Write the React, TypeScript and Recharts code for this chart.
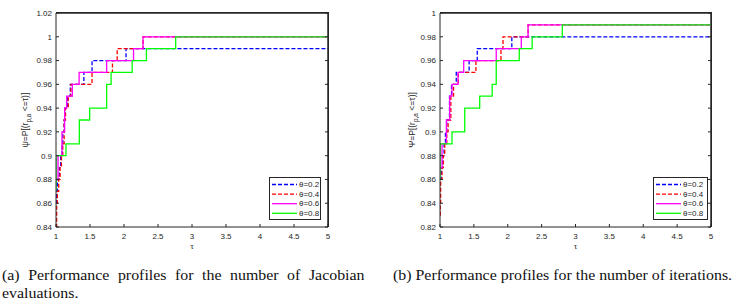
import { LineChart, Line, XAxis, YAxis, Legend, Label, ReferenceLine } from "recharts"

// ── Data ──────────────────────────────────────────────────────────────────

const tauTicks = [1, 1.5, 2, 2.5, 3, 3.5, 4, 4.5, 5]
const jacTicks = [0.84, 0.86, 0.88, 0.9, 0.92, 0.94, 0.96, 0.98, 1, 1.02]
const iterTicks = [0.82, 0.84, 0.86, 0.88, 0.9, 0.92, 0.94, 0.96, 0.98, 1]

const seriesNames = ["θ=0.2", "θ=0.4", "θ=0.6", "θ=0.8"]

// (a) number of Jacobian evaluations: [tau, rho]
const jacTheta02 = [
  [1, 0.86], [1.01, 0.87], [1.02, 0.88], [1.05, 0.89], [1.07, 0.9], [1.09, 0.91],
  [1.1, 0.92], [1.12, 0.93], [1.13, 0.94], [1.17, 0.95], [1.21, 0.96], [1.41, 0.97],
  [1.53, 0.98], [2.03, 0.99], [5, 0.99],
]
const jacTheta04 = [
  [1, 0.84], [1.01, 0.86], [1.02, 0.87], [1.04, 0.88], [1.06, 0.89], [1.08, 0.9],
  [1.1, 0.91], [1.12, 0.93], [1.14, 0.94], [1.18, 0.95], [1.22, 0.96], [1.53, 0.97],
  [1.83, 0.98], [1.9, 0.99], [2.28, 1], [5, 1],
]
const jacTheta06 = [
  [1, 0.88], [1.03, 0.9], [1.088, 0.92], [1.127, 0.94], [1.157, 0.95], [1.24, 0.96],
  [1.34, 0.97], [1.745, 0.98], [2.14, 0.99], [2.28, 1], [5, 1],
]
const jacTheta08 = [
  [1, 0.87], [1, 0.9], [1.147, 0.91], [1.343, 0.93], [1.495, 0.94], [1.745, 0.96],
  [1.81, 0.97], [2.12, 0.98], [2.33, 0.99], [2.76, 1], [5, 1],
]

// (b) number of iterations: [tau, rho]
const iterTheta02 = [
  [1, 0.86], [1.02, 0.87], [1.04, 0.88], [1.06, 0.89], [1.08, 0.9], [1.1, 0.91],
  [1.14, 0.93], [1.17, 0.94], [1.24, 0.95], [1.43, 0.96], [1.55, 0.97], [2.06, 0.98],
  [5, 0.98],
]
const iterTheta04 = [
  [1, 0.83], [1.005, 0.84], [1.01, 0.86], [1.03, 0.87], [1.05, 0.88], [1.07, 0.89],
  [1.1, 0.9], [1.12, 0.91], [1.16, 0.93], [1.2, 0.94], [1.27, 0.95], [1.53, 0.96],
  [1.9, 0.97], [1.93, 0.98], [2.3, 0.99], [5, 0.99],
]
const iterTheta06 = [
  [1, 0.87], [1.03, 0.89], [1.094, 0.91], [1.143, 0.93], [1.177, 0.94], [1.266, 0.95],
  [1.35, 0.96], [1.83, 0.97], [2.2, 0.98], [2.3, 0.99], [5, 0.99],
]
const iterTheta08 = [
  [1, 0.86], [1, 0.89], [1.177, 0.9], [1.365, 0.92], [1.586, 0.93], [1.77, 0.94],
  [1.83, 0.96], [2.17, 0.97], [2.36, 0.98], [2.805, 0.99], [5, 0.99],
]

// ── Styles ────────────────────────────────────────────────────────────────

const STYLES = [
  { color: "#0000ff", dash: "4 2" },
  { color: "#ff0000", dash: "4 2" },
  { color: "#ff00ff", dash: undefined },
  { color: "#00ff00", dash: undefined },
]

const AXIS = "#262626"
const SANS = "'Liberation Sans', Arial, sans-serif"
const SERIF = "'Liberation Serif', 'Times New Roman', serif"

const CHART_H = 255
const TOP = 12
const X_AXIS_H = 28

const toPoints = (pairs: number[][]) => pairs.map(([t, p]) => ({ t, p }))
const noLabel = () => <g />

// ── Legend box ────────────────────────────────────────────────────────────

function LegendBox({ width }: { width: number }) {
  return (
    <div
      style={{
        width,
        height: 43,
        border: `1px solid ${AXIS}`,
        background: "#fff",
        boxSizing: "border-box",
      }}
    >
      <svg width={width - 2} height={41}>
        {seriesNames.map((name, i) => (
          <g key={name} transform={`translate(0, ${6.5 + i * 9.6})`}>
            <line
              x1={2}
              x2={27}
              y1={0}
              y2={0}
              stroke={STYLES[i].color}
              strokeWidth={1.3}
              strokeDasharray={STYLES[i].dash}
            />
            <text
              x={29}
              y={0}
              dominantBaseline="central"
              fontSize={8}
              fontFamily={SANS}
              fill={AXIS}
            >
              {name}
            </text>
          </g>
        ))}
      </svg>
    </div>
  )
}

// ── One performance-profile panel ─────────────────────────────────────────

function ProfileChart({
  series,
  yTicks,
  psi,
  width,
  yAxisWidth,
  marginRight,
  labelX,
  legendLeft,
  legendWidth,
}: {
  series: number[][][]
  yTicks: number[]
  psi: string
  width: number
  yAxisWidth: number
  marginRight: number
  labelX: number
  legendLeft: number
  legendWidth: number
}) {
  const yDomain = [yTicks[0], yTicks[yTicks.length - 1]]
  const tickStyle = { fontSize: 8, fill: AXIS, fontFamily: SANS }
  const plotW = width - yAxisWidth - marginRight - 1
  const plotH = CHART_H - TOP - 1 - X_AXIS_H
  return (
    <div style={{ position: "relative", width, height: CHART_H }}>
      <LineChart
        width={width}
        height={CHART_H}
        margin={{ top: TOP, right: marginRight, bottom: 0, left: 0 }}
      >
        {/* mirrored top / right edges with inward ticks */}
        <XAxis
          xAxisId="top"
          orientation="top"
          type="number"
          domain={[1, 5]}
          ticks={tauTicks}
          height={1}
          tick={noLabel}
          tickSize={-3}
          stroke={AXIS}
          strokeWidth={1}
          interval={0}
          allowDataOverflow
        />
        <XAxis
          type="number"
          dataKey="t"
          domain={[1, 5]}
          ticks={tauTicks}
          height={X_AXIS_H}
          tick={tickStyle}
          tickSize={-3}
          tickMargin={9}
          stroke={AXIS}
          strokeWidth={1}
          interval={0}
          allowDataOverflow
        >
          <Label
            content={({ viewBox }: any) => (
              <text
                x={viewBox.x + viewBox.width / 2}
                y={viewBox.y + 22}
                textAnchor="middle"
                fontSize={9}
                fontFamily={SERIF}
                fill={AXIS}
              >
                τ
              </text>
            )}
          />
        </XAxis>
        <YAxis
          yAxisId="right"
          orientation="right"
          type="number"
          domain={yDomain}
          ticks={yTicks}
          width={1}
          tick={noLabel}
          tickSize={-3}
          stroke={AXIS}
          strokeWidth={1}
          interval={0}
          allowDataOverflow
        />
        <YAxis
          type="number"
          domain={yDomain}
          ticks={yTicks}
          width={yAxisWidth}
          tick={tickStyle}
          tickSize={-3}
          tickMargin={7}
          stroke={AXIS}
          strokeWidth={1}
          interval={0}
          allowDataOverflow
        >
          <Label
            content={({ viewBox }: any) => {
              const cy = viewBox.y + viewBox.height / 2
              return (
                <text
                  x={labelX}
                  y={cy}
                  transform={`rotate(-90, ${labelX}, ${cy})`}
                  textAnchor="middle"
                  dominantBaseline="central"
                  fontSize={8.5}
                  fontFamily={SANS}
                  fill={AXIS}
                >
                  {psi}=P[(r
                  <tspan fontSize={6.5} dy={2.5}>p,a</tspan>
                  <tspan dy={-2.5}> &lt;=τ)]</tspan>
                </text>
              )
            }}
          />
        </YAxis>
        <ReferenceLine y={yDomain[1]} stroke={AXIS} strokeWidth={1} ifOverflow="visible" />
        <ReferenceLine x={5} stroke={AXIS} strokeWidth={1} ifOverflow="visible" />
        {series.map((pairs, i) => (
          <Line
            key={seriesNames[i]}
            data={toPoints(pairs)}
            dataKey="p"
            name={seriesNames[i]}
            type="stepAfter"
            stroke={STYLES[i].color}
            strokeWidth={1.3}
            strokeDasharray={STYLES[i].dash}
            dot={false}
            activeDot={false}
            isAnimationActive={false}
          />
        ))}
        <Legend
          layout="vertical"
          align="center"
          verticalAlign="middle"
          wrapperStyle={{ left: legendLeft, top: 177, width: legendWidth }}
          content={() => <LegendBox width={legendWidth} />}
        />
      </LineChart>
      {/* box frame (top and right edges) */}
      <div
        style={{
          position: "absolute",
          left: yAxisWidth,
          top: TOP,
          width: plotW + 1,
          height: plotH + 1,
          borderTop: `1px solid ${AXIS}`,
          borderRight: `1px solid ${AXIS}`,
          boxSizing: "border-box",
          pointerEvents: "none",
        }}
      />
    </div>
  )
}

// ── Main export ───────────────────────────────────────────────────────────

const captionStyle = {
  position: "absolute" as const,
  top: 266,
  fontFamily: SERIF,
  fontSize: 15,
  lineHeight: "18px",
  color: "#111",
  transform: "scaleX(1.06)",
  transformOrigin: "left top",
}

export default function App() {
  return (
    <div
      style={{
        position: "absolute",
        left: 0,
        top: 0,
        width: 737,
        height: 307,
        background: "#fff",
        overflow: "hidden",
      }}
    >
      <div style={{ position: "absolute", left: 0, top: 0 }}>
        <ProfileChart
          series={[jacTheta02, jacTheta04, jacTheta06, jacTheta08]}
          yTicks={jacTicks}
          psi="ψ"
          width={368}
          yAxisWidth={56}
          marginRight={39}
          labelX={25}
          legendLeft={269}
          legendWidth={52}
        />
      </div>
      <div style={{ position: "absolute", left: 370, top: 0 }}>
        <ProfileChart
          series={[iterTheta02, iterTheta04, iterTheta06, iterTheta08]}
          yTicks={iterTicks}
          psi="Ψ"
          width={367}
          yAxisWidth={70}
          marginRight={25}
          labelX={42}
          legendLeft={283}
          legendWidth={55}
        />
      </div>
      <div
        style={{
          ...captionStyle,
          left: 2,
          width: 342,
          textAlign: "justify",
          textAlignLast: "left",
        }}
      >
        (a) Performance profiles for the number of Jacobian evaluations.
      </div>
      <div style={{ ...captionStyle, left: 393, whiteSpace: "nowrap" }}>
        (b) Performance profiles for the number of iterations.
      </div>
    </div>
  )
}
